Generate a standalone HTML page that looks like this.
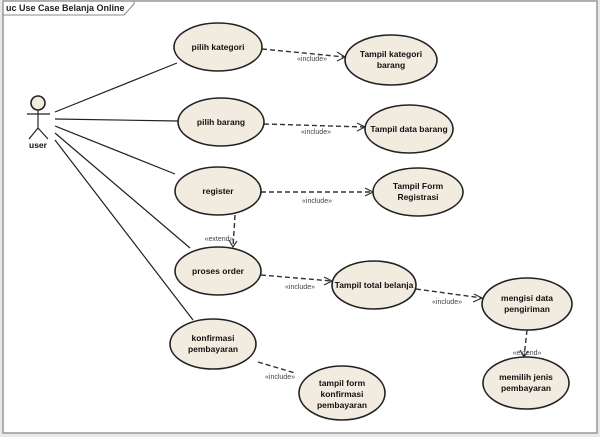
<!DOCTYPE html>
<html><head><meta charset="utf-8"><style>
body{margin:0;background:#e8e8e8;}
svg{display:block;font-family:"Liberation Sans",sans-serif;}
.e{fill:#f2ebe0;stroke:#222;stroke-width:1.6}
.t{font-size:8.5px;font-weight:bold;text-anchor:middle;fill:#111}
.l{font-size:7px;fill:#444;text-anchor:middle}
.s{stroke:#222;stroke-width:1.2;fill:none}
.d{stroke:#333;stroke-width:1.4;stroke-dasharray:5,3;fill:none}
.a{stroke:#333;stroke-width:1.2;fill:none}
</style></head><body>
<svg width="600" height="437" viewBox="0 0 600 437">
<rect x="3" y="1" width="594" height="432" fill="#fff" stroke="#999" stroke-width="1.5"/>
<path d="M3 15 H124 L134 4 V1" fill="none" stroke="#888"/>
<text x="6" y="11" font-size="9" font-weight="bold" fill="#222">uc Use Case Belanja Online</text>
<!-- actor -->
<circle cx="38" cy="103" r="7" class="e"/>
<path d="M38 110 V128 M27 114 H50 M38 128 L29 139 M38 128 L48 139" class="s"/>
<text x="38" y="148" class="t" font-size="8">user</text>
<!-- actor lines -->
<path d="M55 112 L177 63 M55 119 L178 121 M55 126 L175 174 M55 133 L190 248 M55 140 L193 320" class="s"/>
<!-- dashed -->
<path d="M262 49 L345 57 M264 124 L365 127 M261 192 L373 192 M261 275 L332 281 M416 289 L482 298 M235 215 L233 247 M527 330 L524 357 M258 362 L295 373" class="d"/>
<path d="M337 52 L345 57 L337 61 M357 123 L365 127 L357 131 M365 188 L373 192 L365 196 M324 277 L332 281 L324 285 M474 294 L482 298 L473 302 M229 240 L233 247 L237 241 M520 350 L524 357 L528 351" class="a"/>
<text x="312" y="61" class="l">«include»</text>
<text x="316" y="134" class="l">«include»</text>
<text x="317" y="203" class="l">«include»</text>
<text x="300" y="289" class="l">«include»</text>
<text x="447" y="304" class="l">«include»</text>
<text x="219" y="241" class="l">«extend»</text>
<text x="527" y="355" class="l">«extend»</text>
<text x="280" y="379" class="l">«include»</text>
<!-- ellipses -->
<ellipse cx="218" cy="47" rx="44" ry="24" class="e"/><text x="218" y="50" class="t">pilih kategori</text>
<ellipse cx="391" cy="60" rx="46" ry="25" class="e"/><text x="391" y="57" class="t">Tampil kategori</text><text x="391" y="68" class="t">barang</text>
<ellipse cx="221" cy="122" rx="43" ry="24" class="e"/><text x="221" y="125" class="t">pilih barang</text>
<ellipse cx="409" cy="129" rx="44" ry="24" class="e"/><text x="409" y="132" class="t">Tampil data barang</text>
<ellipse cx="218" cy="191" rx="43" ry="24" class="e"/><text x="218" y="194" class="t">register</text>
<ellipse cx="418" cy="192" rx="45" ry="24" class="e"/><text x="418" y="189" class="t">Tampil Form</text><text x="418" y="200" class="t">Registrasi</text>
<ellipse cx="218" cy="271" rx="43" ry="24" class="e"/><text x="218" y="274" class="t">proses order</text>
<ellipse cx="374" cy="285" rx="42" ry="24" class="e"/><text x="374" y="288" class="t">Tampil total belanja</text>
<ellipse cx="527" cy="304" rx="45" ry="26" class="e"/><text x="527" y="301" class="t">mengisi data</text><text x="527" y="312" class="t">pengiriman</text>
<ellipse cx="213" cy="344" rx="43" ry="25" class="e"/><text x="213" y="341" class="t">konfirmasi</text><text x="213" y="352" class="t">pembayaran</text>
<ellipse cx="342" cy="393" rx="43" ry="27" class="e"/><text x="342" y="386" class="t">tampil form</text><text x="342" y="397" class="t">konfirmasi</text><text x="342" y="408" class="t">pembayaran</text>
<ellipse cx="526" cy="383" rx="43" ry="26" class="e"/><text x="526" y="380" class="t">memilih jenis</text><text x="526" y="391" class="t">pembayaran</text>
</svg>
</body></html>
